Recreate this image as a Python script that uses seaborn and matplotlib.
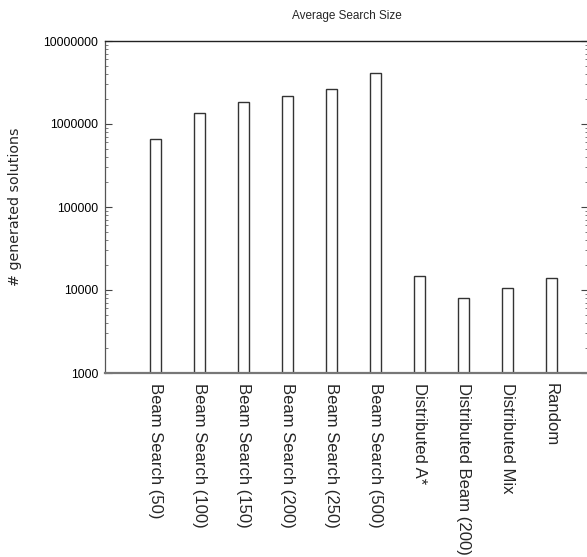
import numpy as np
import pandas as pd
import matplotlib
matplotlib.use("Agg")
import matplotlib.pyplot as plt
import matplotlib.ticker as tkr
import seaborn as sns

methods = ["Beam Search (50)", "Beam Search (100)", "Beam Search (150)",
           "Beam Search (200)", "Beam Search (250)", "Beam Search (500)",
           "Distributed A*", "Distributed Beam (200)", "Distributed Mix", "Random"]
search_size = [655000, 1345000, 1857000, 2193000, 2618000, 4083000,
               14750, 8090, 10570, 13830]
y_ticks = [1000, 10000, 100000, 1000000, 10000000]

sns.set_theme(style="white")
plt.rcParams['font.family'] = ['Liberation Sans', 'DejaVu Sans']

df = pd.DataFrame({"method": methods, "size": search_size})

fig = plt.figure(figsize=(5.87, 5.57), dpi=100)
ax = fig.add_axes([105 / 587, 184 / 557, 483 / 587, 332 / 557])

sns.barplot(data=df, x="method", y="size", color="white", edgecolor="#333333",
            linewidth=1.0, width=0.25, saturation=1, ax=ax)
ax.set_yscale("log", nonpositive="clip")

ax.set_ylim(1000, 10000000)
ax.set_xlim(-1.16, 9.84)
ax.yaxis.set_major_locator(tkr.FixedLocator(y_ticks))
ax.yaxis.set_major_formatter(tkr.FuncFormatter(lambda v, p: "{:d}".format(int(round(v)))))
ax.yaxis.set_minor_locator(tkr.LogLocator(base=10, subs=np.arange(2, 10)))
ax.yaxis.set_minor_formatter(tkr.NullFormatter())

ax.tick_params(axis="y", which="major", direction="in", length=5, width=0.8,
               labelsize=8.8, pad=5, left=True, right=True, labelright=False, colors="#444444",
               labelcolor="black")
ax.tick_params(axis="y", which="minor", direction="in", length=2.5, width=0.6,
               left=True, right=True, colors="#666666")
ax.tick_params(axis="x", bottom=False, labelsize=12, pad=1.5)
for lab in ax.get_xticklabels():
    lab.set_rotation(270)
    lab.set_va("top")
    lab.set_ha("center")

ax.spines["top"].set_color("#222222")
ax.spines["top"].set_linewidth(1.0)
ax.spines["bottom"].set_color("#777777")
ax.spines["bottom"].set_linewidth(1.6)
ax.spines["left"].set_color("#555555")
ax.spines["left"].set_linewidth(0.9)
ax.spines["right"].set_visible(False)

ax.set_xlabel("")
ax.set_ylabel("# generated solutions", fontsize=10.3, family=["DejaVu Sans"])
ax.yaxis.set_label_coords(-0.172, 0.5)
ax.set_title("Average Search Size", fontsize=8.5, pad=16)

fig.savefig("out.png", dpi=100)
